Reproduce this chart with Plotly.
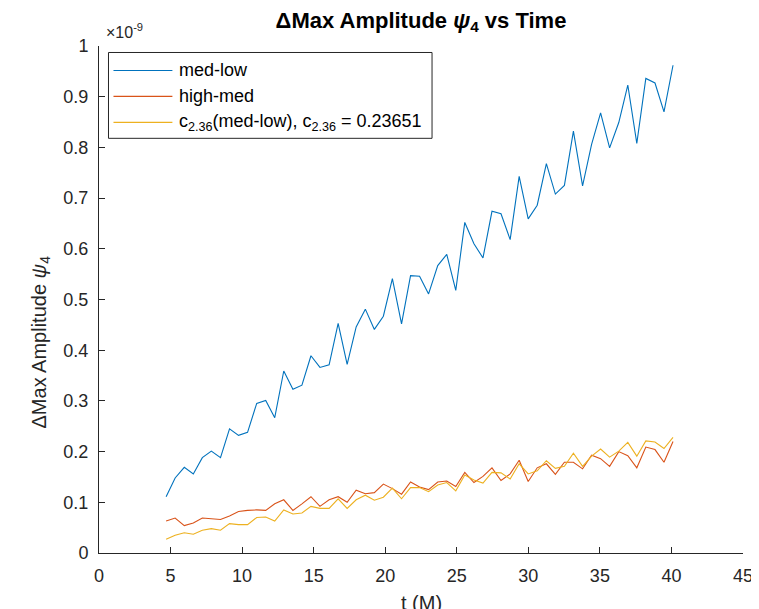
import plotly.graph_objects as go

# time values (M)
t = [4.69, 5.32, 5.96, 6.59, 7.22, 7.85, 8.49, 9.12, 9.75, 10.38,
     11.02, 11.65, 12.28, 12.91, 13.55, 14.18, 14.81, 15.44, 16.08, 16.71,
     17.34, 17.97, 18.61, 19.24, 19.87, 20.50, 21.14, 21.77, 22.40, 23.03,
     23.67, 24.30, 24.93, 25.56, 26.20, 26.83, 27.46, 28.09, 28.73, 29.36,
     29.99, 30.62, 31.26, 31.89, 32.52, 33.15, 33.79, 34.42, 35.05, 35.68,
     36.32, 36.95, 37.58, 38.21, 38.85, 39.48, 40.11]

# values in units of 1e-9
med_low = [0.111, 0.148, 0.169, 0.156, 0.188, 0.201, 0.188, 0.245, 0.232, 0.238,
           0.295, 0.301, 0.267, 0.359, 0.323, 0.331, 0.389, 0.366, 0.371, 0.453,
           0.372, 0.446, 0.481, 0.441, 0.467, 0.541, 0.452, 0.547, 0.546, 0.511,
           0.567, 0.589, 0.518, 0.652, 0.610, 0.582, 0.674, 0.669, 0.618, 0.743,
           0.659, 0.686, 0.768, 0.708, 0.725, 0.832, 0.724, 0.806, 0.868, 0.799,
           0.849, 0.923, 0.808, 0.936, 0.927, 0.870, 0.962]

high_med = [0.063, 0.069, 0.054, 0.059, 0.069, 0.067, 0.066, 0.073, 0.082, 0.084,
            0.085, 0.084, 0.097, 0.105, 0.084, 0.097, 0.111, 0.092, 0.105, 0.111,
            0.100, 0.124, 0.117, 0.119, 0.136, 0.127, 0.116, 0.140, 0.130, 0.125,
            0.140, 0.142, 0.131, 0.159, 0.139, 0.151, 0.168, 0.143, 0.156, 0.183,
            0.141, 0.168, 0.176, 0.155, 0.179, 0.179, 0.166, 0.193, 0.186, 0.171,
            0.200, 0.192, 0.168, 0.209, 0.204, 0.179, 0.220]

scaled_med_low = [0.027, 0.035, 0.040, 0.037, 0.045, 0.048, 0.045, 0.058, 0.056, 0.056,
                  0.070, 0.071, 0.063, 0.085, 0.077, 0.079, 0.092, 0.088, 0.088, 0.107,
                  0.088, 0.105, 0.114, 0.104, 0.110, 0.128, 0.107, 0.129, 0.129, 0.121,
                  0.134, 0.139, 0.1225, 0.154, 0.144, 0.138, 0.159, 0.158, 0.146, 0.176,
                  0.156, 0.162, 0.182, 0.167, 0.171, 0.197, 0.171, 0.191, 0.205, 0.189,
                  0.201, 0.218, 0.191, 0.221, 0.219, 0.206, 0.228]

names = ["med-low", "high-med",
         "c<sub>2.36</sub>(med-low), c<sub>2.36</sub> = 0.23651"]
colors = ["#0072BD", "#D95319", "#EDB120"]

FONT = "Liberation Sans, Arial, Helvetica, sans-serif"
AX = "#262626"

W, H = 759, 609
# page body has an 8px margin; positions below are in figure pixels
L, R, T, B = 90.5, 23.6, 37.5, 63.5
PW, PH = W - L - R, H - T - B


def px(xf):
    return (xf - L) / PW


def py(yf):
    return (H - B - yf) / PH


fig = go.Figure()
for y, n, c in zip([med_low, high_med, scaled_med_low], names, colors):
    fig.add_trace(go.Scatter(x=t, y=y, mode="lines", name=n, showlegend=False,
                             line=dict(color=c, width=1.1)))

fig.update_layout(
    width=W, height=H,
    paper_bgcolor="white", plot_bgcolor="white",
    margin=dict(l=L, r=R, t=T, b=B, autoexpand=False),
    font=dict(family=FONT, size=18, color=AX),
    title=dict(text="<b>ΔMax Amplitude <i>ψ</i><sub>4</sub> vs Time</b>",
               x=0.5, xref="paper", xanchor="center",
               y=1 - 12 / H, yanchor="middle", automargin=False,
               font=dict(size=22, color="black")),
    showlegend=False,
    xaxis=dict(range=[0, 45], dtick=5, tick0=0, showgrid=False, zeroline=False,
               showline=True, linecolor=AX, linewidth=1, mirror=False,
               ticks="inside", ticklen=6, tickcolor=AX, automargin=False,
               tickfont=dict(size=18, color=AX), ticklabelstandoff=6),
    yaxis=dict(range=[0, 1], dtick=0.1, tick0=0, showgrid=False, zeroline=False,
               showline=True, linecolor=AX, linewidth=1, mirror=False,
               ticks="inside", ticklen=6, tickcolor=AX, automargin=False,
               tickfont=dict(size=18, color=AX), ticklabelstandoff=6),
)

# axis titles
fig.add_annotation(text="ΔMax Amplitude <i>ψ</i><sub>4</sub>", textangle=-90,
                   xref="paper", yref="paper", x=px(32), y=py(334),
                   xanchor="center", yanchor="middle", showarrow=False,
                   font=dict(size=20, color=AX))
fig.add_annotation(text="t (M)", xref="paper", yref="paper",
                   x=0.5, y=py(596), xanchor="center", yanchor="middle",
                   showarrow=False, font=dict(size=20, color=AX))

# exponent label
fig.add_annotation(text="×10<sup>-9</sup>", xref="paper", yref="paper",
                   x=px(96), y=py(34), xanchor="left", yanchor="bottom",
                   showarrow=False, font=dict(size=16, color=AX))

# legend box (drawn manually to match the long line samples)
fig.add_shape(type="rect", xref="paper", yref="paper",
              x0=px(100), x1=px(424), y0=py(130), y1=py(44),
              line=dict(color=AX, width=1), fillcolor="white", layer="above")
rows = [62, 88, 114]
for yy, n, c in zip(rows, names, colors):
    fig.add_shape(type="line", xref="paper", yref="paper",
                  x0=px(105), x1=px(164), y0=py(yy), y1=py(yy),
                  line=dict(color=c, width=1.1), layer="above")
    fig.add_annotation(text=n, xref="paper", yref="paper",
                       x=px(169), y=py(yy), xanchor="left", yanchor="middle",
                       showarrow=False, font=dict(size=18, color="black"))

fig.write_html("out.html")
